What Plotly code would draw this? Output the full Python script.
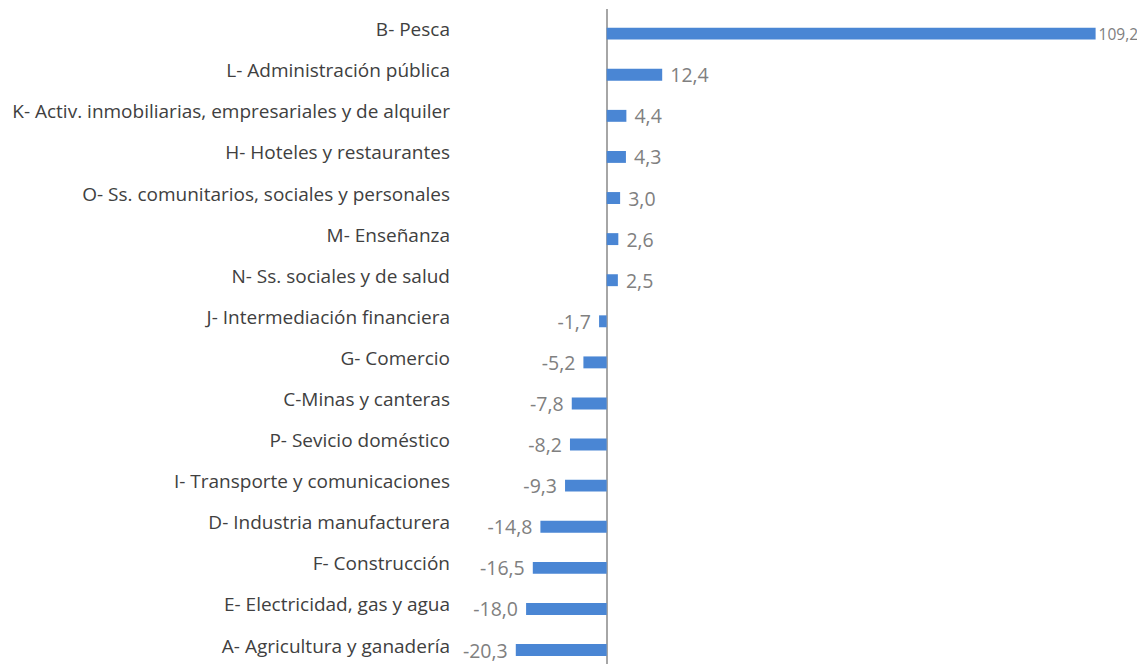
import plotly.graph_objects as go

categories = [
    "B- Pesca",
    "L- Administración pública",
    "K- Activ. inmobiliarias, empresariales y de alquiler",
    "H- Hoteles y restaurantes",
    "O- Ss. comunitarios, sociales y personales",
    "M- Enseñanza",
    "N- Ss. sociales y de salud",
    "J- Intermediación financiera",
    "G- Comercio",
    "C-Minas y canteras",
    "P- Sevicio doméstico",
    "I- Transporte y comunicaciones",
    "D- Industria manufacturera",
    "F- Construcción",
    "E- Electricidad, gas y agua",
    "A- Agricultura y ganadería",
]
values = [109.2, 12.4, 4.4, 4.3, 3.0, 2.6, 2.5, -1.7, -5.2, -7.8, -8.2, -9.3, -14.8, -16.5, -18.0, -20.3]

NBSP = "\u00a0"


def fmt(v):
    s = f"{v:.1f}".replace(".", ",")
    if abs(v) > 100:
        return s
    return NBSP + s if v > 0 else s + NBSP


labels = [fmt(v) for v in values]
label_sizes = [15.5 if abs(v) > 100 else 19.5 for v in values]

fig = go.Figure(
    go.Bar(
        x=values,
        y=categories,
        orientation="h",
        marker=dict(color="#4a86d4", line=dict(width=0)),
        width=0.29,
        offset=-0.045,
        text=labels,
        textposition="outside",
        textfont=dict(family="Open Sans", size=label_sizes, color="#808080"),
        constraintext="none",
        cliponaxis=False,
    )
)

fig.update_layout(
    width=1137,
    height=656,
    margin=dict(l=452, r=27, t=1, b=0),
    paper_bgcolor="white",
    plot_bgcolor="white",
    showlegend=False,
    xaxis=dict(
        range=[-32.76, 114.2],
        showgrid=False,
        showticklabels=False,
        zeroline=True,
        zerolinecolor="#a6a6a6",
        zerolinewidth=1.5,
        showline=False,
        ticks="",
    ),
    yaxis=dict(
        range=[15.44, -0.5],
        showgrid=False,
        zeroline=False,
        showline=False,
        ticks="",
        tickfont=dict(family="Open Sans", size=19, color="#404040"),
        ticklabelstandoff=9,
    ),
)

fig.write_html("out.html")
